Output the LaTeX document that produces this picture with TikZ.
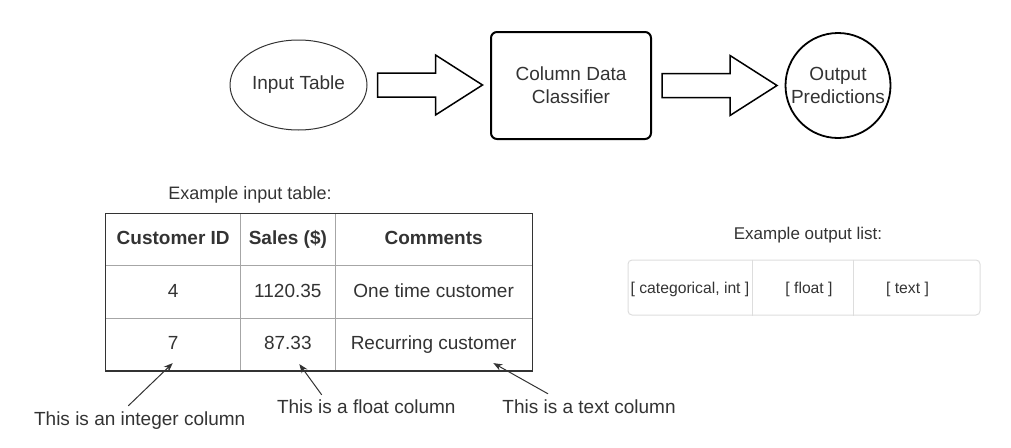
\documentclass[tikz,border=0pt]{standalone}
\usepackage{fontspec}
\setmainfont{Liberation Sans}
\usepackage{xcolor}
\usepackage{tikz}
\usetikzlibrary{positioning,shapes.geometric,calc,arrows.meta}

\definecolor{ink}{HTML}{333333}
\definecolor{gridline}{HTML}{A6A6A6}
\definecolor{listline}{HTML}{DDDDDD}

\begin{document}
\begin{tikzpicture}[x = 1pt, y = -1pt,
                every node/.style = {text = ink, inner sep = 0pt},
                big/.style = {font = \fontsize{19}{23}\selectfont},
                blockarrow/.style = {draw = black, line width = 1.5pt, line join = miter},
                cell/.style = {draw = gridline, line width = 1pt, outer sep = 0pt, minimum height = 52.6pt, text height = 14pt, text depth = 4pt, font = \fontsize{19}{23}\selectfont},
                hdr/.style = {cell, font = \fontsize{19}{23}\selectfont\bfseries},
                item/.style = {font = \fontsize{15.7}{19}\selectfont},
                note/.style = {text height = 14pt, text depth = 4pt, font = \fontsize{19}{23}\selectfont},
                pointer/.style = {draw = ink, line width = 1pt, -{Stealth[length = 9pt, width = 7pt]}}]
                \useasboundingbox (0,0) rectangle (1011,447);
                
                \node (IT) [ellipse, draw = ink, line width = 1pt, minimum width = 137pt, minimum height = 90pt, big] at (298.5,85) {Input Table};
                \node (CL) [draw = black, line width = 2pt, rounded corners = 6pt, minimum width = 160pt, minimum height = 107pt, align = center, big] at (571,85.5) {Column Data\\Classifier};
                \node (OP) [circle, draw = black, line width = 1.8pt, minimum size = 105pt, label = {[align = center, big]center:Output\\Predictions}] at (838,85.5) {};
                
                \draw[blockarrow] ($(IT.east)+(10,-12)$) -- ++(58,0) -- ++(0,-18) -- ++(47,30) -- ++(-47,30) -- ++(0,-18) -- ++(-58,0) -- cycle;
                \draw[blockarrow] ($(CL.east)+(10,-12)$) -- ++(68,0) -- ++(0,-18) -- ++(47,30) -- ++(-47,30) -- ++(0,-18) -- ++(-68,0) -- cycle;
                
                \node (EIT) [font = \fontsize{18}{22}\selectfont] at (250,194.5) {Example input table:};
                
                \node (cid) [hdr, minimum width = 135pt] at (173.2,239.6) {Customer ID};
                \node (sales) [hdr, minimum width = 94.3pt, right = 0pt of cid] {Sales (\$)};
                \node (comm) [hdr, minimum width = 197.3pt, right = 0pt of sales] {Comments};
                
                \node (cid1) [cell, minimum width = 135pt, below = 0pt of cid] {4};
                \node (sales1) [cell, minimum width = 94.3pt, right = 0pt of cid1] {1120.35};
                \node (comm1) [cell, minimum width = 197.3pt, right = 0pt of sales1] {One time customer};
                
                \node (cid2) [cell, minimum width = 135pt, below = 0pt of cid1] {7};
                \node (sales2) [cell, minimum width = 94.3pt, right = 0pt of cid2] {87.33};
                \node (comm2) [cell, minimum width = 197.3pt, right = 0pt of sales2] {Recurring customer};
                
                \draw[draw = ink, line width = 1.3pt] (cid.north west) rectangle (comm2.south east);
                
                \node (Nint) [note] at (139.7,420) {This is an integer column};
                \node (Nflt) [note] at (366.3,408) {This is a float column};
                \node (Ntxt) [note] at (589,408.5) {This is a text column};
                
                \draw[pointer] ([xshift = -11.4pt, yshift = 5pt]Nint.north) -- ([xshift = -0.5pt, yshift = 8pt]cid2.south);
                \draw[pointer] ([xshift = -44.6pt, yshift = 4pt]Nflt.north) -- ([xshift = 11.5pt, yshift = 7pt]sales2.south);
                \draw[pointer] ([xshift = -41pt, yshift = 5.5pt]Ntxt.north) -- ([xshift = 59.7pt, yshift = 8pt]comm2.south);
                
                \node (EOL) [font = \fontsize{17}{20}\selectfont] at (808,235.5) {Example output list:};
                \node (OL) [draw = listline, line width = 1pt, rounded corners = 4pt, minimum width = 352pt, minimum height = 55pt] at (804,287.5) {};
                \draw[draw = listline, line width = 1pt] ([xshift = 125pt]OL.north west) -- ([xshift = 125pt]OL.south west);
                \draw[draw = listline, line width = 1pt] ([xshift = 226pt]OL.north west) -- ([xshift = 226pt]OL.south west);
                
                \node (Lcat) [item] at (690,289) {{[} categorical, int ]};
                \node (Lflt) [item] at (809,289) {{[} float ]};
                \node (Ltxt) [item] at (907.5,289) {{[} text ]};
            \end{tikzpicture}
\end{document}
